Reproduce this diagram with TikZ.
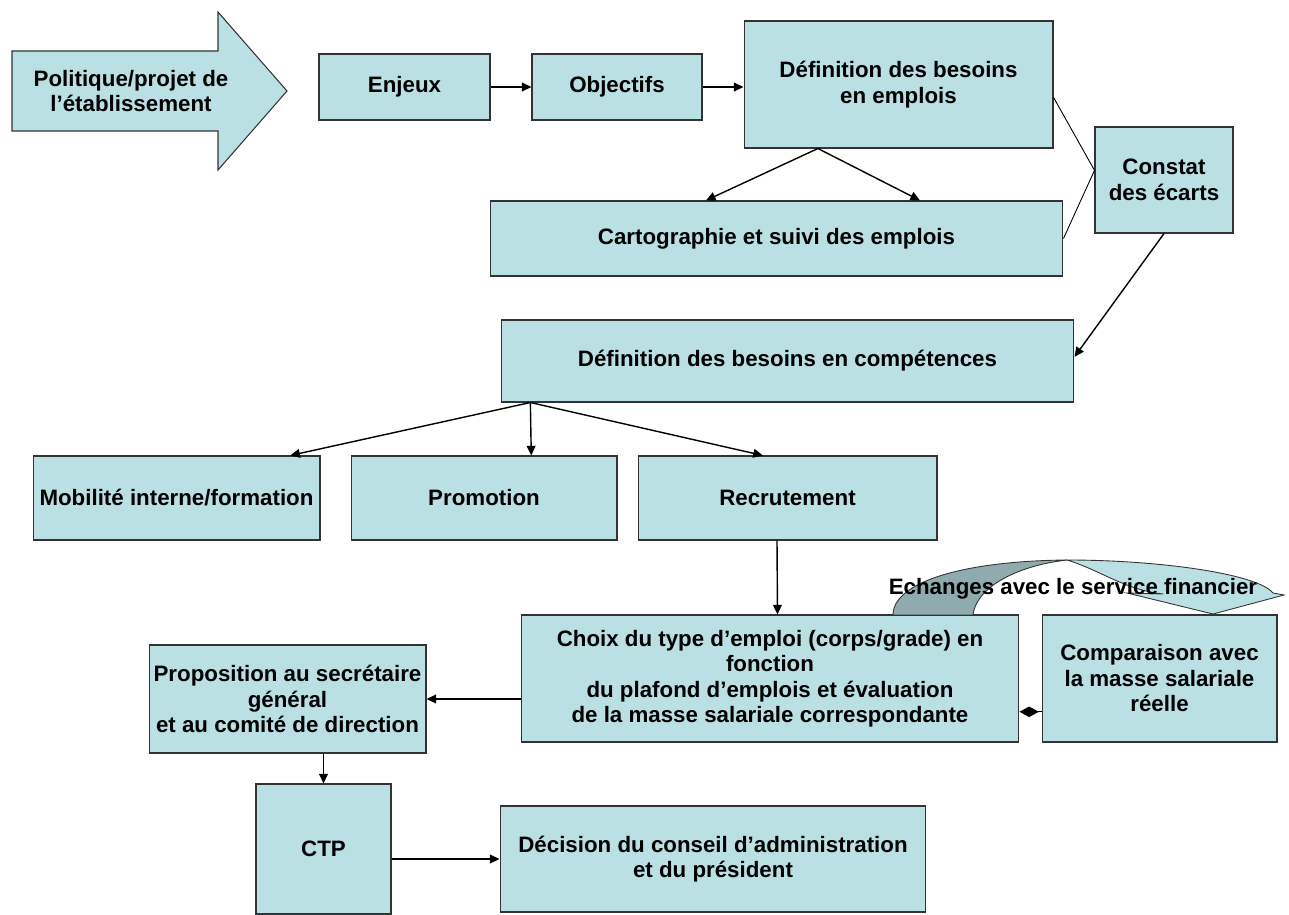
\documentclass[tikz,border=0pt]{standalone}
\usepackage{fontspec}
\setmainfont{Liberation Sans}
\usetikzlibrary{arrows.meta,calc}
\definecolor{bleuboite}{RGB}{187,224,227}
\definecolor{bleusombre}{RGB}{143,171,173}

\begin{document}
\begin{tikzpicture}[x=0.02cm,y=-0.02cm,
	boite/.style={draw=black!80,fill=bleuboite,line width=0.6pt,inner sep=2pt,align=center,font=\bfseries\fontsize{12.7}{14.5}\selectfont},
	texte/.style={align=center,font=\bfseries\fontsize{12.7}{14.5}\selectfont},
	fleche/.style={-{Triangle[length=5.5pt,width=5pt]},line width=0.8pt},
	trait/.style={line width=0.5pt}]
	\useasboundingbox (0,0) rectangle (1289,915);

	\filldraw[draw=black!80,fill=bleuboite,line width=0.6pt] (12,51) -- (218,51) -- (218,12) -- (287,91) -- (218,170) -- (218,131) -- (12,131) -- cycle;
	\node[texte] (politique) at (131,91) {Politique/projet de\\l’établissement};

	\node[boite,minimum width=3.42cm,minimum height=1.32cm] (enjeux) at (404.5,87) {Enjeux};
	\node[boite,minimum width=3.40cm,minimum height=1.32cm] (objectifs) at (617,87) {Objectifs};
	\node[boite,minimum width=6.18cm,minimum height=2.54cm] (emplois) at (898.5,84.5) {Définition des besoins\\en emplois};
	\node[boite,minimum width=11.46cm,minimum height=1.50cm] (carto) at (776.5,238.5) {Cartographie et suivi des emplois};
	\node[boite,minimum width=2.76cm,minimum height=2.12cm] (constat) at (1164,180) {Constat\\des écarts};
	\node[boite,minimum width=11.46cm,minimum height=1.64cm] (competences) at (787.5,361) {Définition des besoins en compétences};
	\node[boite,minimum width=5.74cm,minimum height=1.68cm] (mobilite) at (176.5,498) {Mobilité interne/formation};
	\node[boite,minimum width=5.32cm,minimum height=1.68cm] (promotion) at (484,498) {Promotion};
	\node[boite,minimum width=5.98cm,minimum height=1.68cm] (recrutement) at (787.5,498) {Recrutement};
	\node[boite,minimum width=9.96cm,minimum height=2.54cm] (choix) at (770,678.5) {Choix du type d’emploi (corps/grade) en\\fonction\\du plafond d’emplois et évaluation\\de la masse salariale correspondante};
	\node[boite,minimum width=4.70cm,minimum height=2.54cm] (comparaison) at (1159.5,678.5) {Comparaison avec\\la masse salariale\\réelle};
	\node[boite,minimum width=5.54cm,minimum height=2.16cm] (proposition) at (287.5,699) {Proposition au secrétaire\\général\\et au comité de direction};
	\node[boite,minimum width=2.70cm,minimum height=2.60cm] (ctp) at (323.5,849) {CTP};
	\node[boite,minimum width=8.52cm,minimum height=2.12cm] (decision) at (713,859) {Décision du conseil d’administration\\et du président};

	\filldraw[draw=black!80,fill=bleusombre,line width=0.5pt] (893,615) .. controls (893,583) and (960,561) .. (1067,560) .. controls (1015,566) and (976,588) .. (973,615) -- cycle;
	\filldraw[draw=black!80,fill=bleuboite,line width=0.5pt] (1067,560) .. controls (1160,560) and (1258,574) .. (1273,593) -- (1284,595) -- (1213,614) -- (1127,593) -- (1163,594) .. controls (1125,590) and (1100,570) .. (1067,560) -- cycle;
	\node[texte] (echanges) at (1073,589) {Echanges avec le service financier};

	\draw[fleche] (enjeux) -- (objectifs);
	\draw[fleche] (objectifs) -- (objectifs -| emplois.west);
	\draw[fleche] ($(emplois.south west)!0.24!(emplois.south east)$) -- ($(carto.north west)!0.377!(carto.north east)$);
	\draw[fleche] ($(emplois.south west)!0.24!(emplois.south east)$) -- ($(carto.north west)!0.75!(carto.north east)$);
	\draw[trait] ($(emplois.north east)!0.6!(emplois.south east)$) -- ($(constat.north west)!0.41!(constat.south west)$) -- (carto.east);
	\draw[fleche] (constat.south) -- ($(competences.north east)!0.45!(competences.south east)$);
	\draw[fleche] ($(competences.south west)!0.052!(competences.south east)$) -- ($(mobilite.north west)!0.895!(mobilite.north east)$);
	\draw[fleche] ($(competences.south west)!0.052!(competences.south east)$) -- ($(promotion.north west)!0.677!(promotion.north east)$);
	\draw[fleche] ($(competences.south west)!0.052!(competences.south east)$) -- ($(recrutement.north west)!0.418!(recrutement.north east)$);
	\draw[fleche] ($(recrutement.south west)!0.465!(recrutement.south east)$) -- ($(choix.north west)!0.515!(choix.north east)$);
	\draw[fleche] (proposition.east -| choix.west) -- (proposition.east);
	\draw[-{Diamond[length=11pt,width=6pt]},line width=0.8pt] ($(comparaison.north west)!0.76!(comparaison.south west)$) -- ($(choix.north east)!0.76!(choix.south east)$);
	\draw[fleche] (ctp.north |- proposition.south) -- (ctp.north);
	\draw[fleche] (ctp.east |- decision.west) -- (decision.west);
\end{tikzpicture}
\end{document}
